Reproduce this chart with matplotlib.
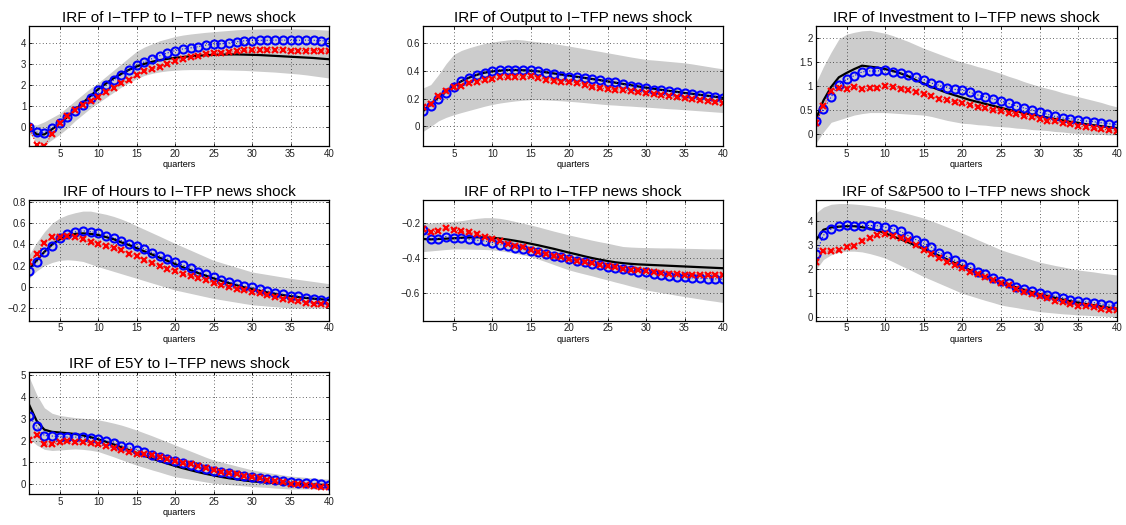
import numpy as np
import matplotlib
matplotlib.use("Agg")
import matplotlib.pyplot as plt

plt.rcParams['font.family'] = ['Liberation Sans', 'DejaVu Sans']

quarters = list(range(1, 41))

titles = ["IRF of I\u2212TFP to I\u2212TFP news shock",
          "IRF of Output to I\u2212TFP news shock",
          "IRF of Investment to I\u2212TFP news shock",
          "IRF of Hours to I\u2212TFP news shock",
          "IRF of RPI to I\u2212TFP news shock",
          "IRF of S&P500 to I\u2212TFP news shock",
          "IRF of E5Y to I\u2212TFP news shock"]

# ---- I-TFP ----
tfp_med = [0, -0.35, -0.35, -0.1, 0.17, 0.48, 0.82, 1.15, 1.48, 1.8, 2.07, 2.32, 2.53, 2.72, 2.88, 3.0, 3.1, 3.18, 3.24, 3.29,
           3.33, 3.36, 3.39, 3.41, 3.43, 3.44, 3.45, 3.45, 3.44, 3.43, 3.42, 3.4, 3.38, 3.36, 3.34, 3.32, 3.3, 3.28, 3.25, 3.22]
tfp_blue = [0, -0.24, -0.27, -0.06, 0.18, 0.46, 0.76, 1.07, 1.39, 1.74, 1.98, 2.23, 2.47, 2.72, 2.93, 3.1, 3.25, 3.39, 3.52, 3.63,
            3.71, 3.76, 3.82, 3.89, 3.94, 3.95, 4.0, 4.05, 4.1, 4.11, 4.12, 4.12, 4.13, 4.13, 4.12, 4.12, 4.13, 4.12, 4.11, 4.05]
tfp_red = [0, -0.86, -0.9, -0.33, 0.18, 0.51, 0.83, 1.07, 1.23, 1.42, 1.66, 1.86, 2.07, 2.25, 2.47, 2.65, 2.76, 2.87, 3.0, 3.12,
           3.23, 3.31, 3.39, 3.49, 3.51, 3.52, 3.55, 3.6, 3.65, 3.65, 3.67, 3.67, 3.67, 3.67, 3.63, 3.63, 3.63, 3.63, 3.63, 3.59]
tfp_up = [0.15, 0.1, 0.25, 0.45, 0.65, 0.95, 1.25, 1.55, 1.85, 2.1, 2.4, 2.7, 3.0, 3.3, 3.6, 3.8, 3.95, 4.1, 4.2, 4.3,
          4.37, 4.42, 4.46, 4.5, 4.53, 4.56, 4.59, 4.62, 4.64, 4.65, 4.66, 4.67, 4.67, 4.67, 4.67, 4.66, 4.65, 4.64, 4.62, 4.6]
tfp_lo = [-0.3, -0.7, -0.85, -0.6, -0.35, -0.05, 0.3, 0.6, 0.9, 1.15, 1.4, 1.65, 1.9, 2.1, 2.3, 2.45, 2.55, 2.62, 2.67, 2.7,
          2.72, 2.73, 2.73, 2.73, 2.72, 2.72, 2.71, 2.7, 2.69, 2.67, 2.65, 2.63, 2.61, 2.58, 2.55, 2.52, 2.48, 2.43, 2.38, 2.33]

# ---- Output ----
out_med = [0.11, 0.16, 0.21, 0.25, 0.29, 0.325, 0.35, 0.37, 0.385, 0.395, 0.4, 0.405, 0.405, 0.403, 0.4, 0.395, 0.388, 0.38, 0.372, 0.364,
           0.356, 0.348, 0.34, 0.332, 0.323, 0.314, 0.305, 0.296, 0.287, 0.278, 0.27, 0.262, 0.255, 0.248, 0.24, 0.234, 0.227, 0.22, 0.213, 0.205]
out_blue = [0.108, 0.144, 0.197, 0.24, 0.283, 0.326, 0.35, 0.37, 0.384, 0.398, 0.408, 0.408, 0.408, 0.405, 0.403, 0.396, 0.384, 0.374, 0.365, 0.358,
            0.353, 0.346, 0.338, 0.331, 0.322, 0.317, 0.302, 0.293, 0.283, 0.274, 0.264, 0.259, 0.252, 0.245, 0.238, 0.233, 0.226, 0.218, 0.214, 0.204]
out_red = [0.139, 0.163, 0.216, 0.257, 0.283, 0.293, 0.312, 0.317, 0.331, 0.341, 0.353, 0.353, 0.355, 0.355, 0.36, 0.346, 0.336, 0.329, 0.322, 0.322,
           0.312, 0.298, 0.283, 0.276, 0.269, 0.264, 0.259, 0.254, 0.245, 0.238, 0.233, 0.226, 0.216, 0.209, 0.202, 0.197, 0.19, 0.185, 0.178, 0.168]
out_up = [0.276, 0.3, 0.37, 0.45, 0.516, 0.545, 0.564, 0.58, 0.595, 0.605, 0.613, 0.62, 0.624, 0.62, 0.612, 0.606, 0.6, 0.593, 0.585, 0.576,
          0.566, 0.557, 0.547, 0.538, 0.528, 0.518, 0.508, 0.498, 0.489, 0.48, 0.476, 0.471, 0.466, 0.461, 0.456, 0.448, 0.439, 0.43, 0.421, 0.413]
out_lo = [-0.036, 0.0, 0.04, 0.065, 0.084, 0.1, 0.115, 0.13, 0.145, 0.158, 0.168, 0.176, 0.183, 0.188, 0.192, 0.192, 0.19, 0.187, 0.184, 0.18,
          0.176, 0.171, 0.166, 0.161, 0.156, 0.153, 0.149, 0.146, 0.142, 0.139, 0.135, 0.131, 0.127, 0.124, 0.12, 0.116, 0.112, 0.108, 0.104, 0.1]

# ---- Investment ----
inv_med = [0.3, 0.7, 0.98, 1.18, 1.27, 1.35, 1.42, 1.4, 1.38, 1.35, 1.31, 1.26, 1.2, 1.12, 1.05, 0.98, 0.92, 0.86, 0.81, 0.76,
           0.71, 0.67, 0.63, 0.59, 0.55, 0.51, 0.48, 0.44, 0.41, 0.38, 0.35, 0.32, 0.29, 0.26, 0.24, 0.21, 0.19, 0.17, 0.15, 0.13]
inv_blue = [0.283, 0.517, 0.772, 1.028, 1.138, 1.214, 1.29, 1.31, 1.31, 1.33, 1.29, 1.27, 1.228, 1.18, 1.13, 1.06, 1.014, 0.966, 0.93, 0.917,
            0.869, 0.814, 0.772, 0.73, 0.69, 0.64, 0.586, 0.545, 0.503, 0.462, 0.414, 0.372, 0.338, 0.324, 0.297, 0.276, 0.262, 0.241, 0.22, 0.2]
inv_red = [0.24, 0.586, 0.897, 0.966, 0.945, 0.972, 0.938, 0.952, 0.959, 1.0, 0.979, 0.945, 0.917, 0.883, 0.841, 0.786, 0.738, 0.703, 0.669, 0.641,
           0.607, 0.572, 0.538, 0.51, 0.483, 0.448, 0.42, 0.386, 0.352, 0.324, 0.283, 0.269, 0.241, 0.214, 0.172, 0.152, 0.131, 0.11, 0.09, 0.069]
inv_up = [1.055, 1.4, 1.7, 1.97, 2.07, 2.11, 2.14, 2.15, 2.12, 2.09, 2.04, 1.98, 1.92, 1.85, 1.78, 1.72, 1.66, 1.6, 1.54, 1.49,
          1.45, 1.4, 1.36, 1.31, 1.26, 1.2, 1.15, 1.09, 1.04, 0.99, 0.95, 0.91, 0.86, 0.82, 0.78, 0.74, 0.7, 0.66, 0.61, 0.57]
inv_lo = [-0.19, 0.05, 0.25, 0.3, 0.35, 0.4, 0.43, 0.45, 0.45, 0.45, 0.44, 0.43, 0.42, 0.41, 0.4, 0.37, 0.33, 0.29, 0.26, 0.23,
          0.22, 0.2, 0.19, 0.17, 0.16, 0.15, 0.13, 0.12, 0.1, 0.09, 0.08, 0.06, 0.05, 0.03, 0.02, 0.01, 0.0, 0.0, -0.01, -0.01]

# ---- Hours ----
hrs_med = [0.17, 0.25, 0.33, 0.4, 0.45, 0.48, 0.5, 0.505, 0.5, 0.49, 0.47, 0.45, 0.42, 0.395, 0.365, 0.335, 0.305, 0.275, 0.245, 0.215,
           0.185, 0.158, 0.13, 0.105, 0.08, 0.057, 0.035, 0.015, -0.005, -0.022, -0.038, -0.053, -0.066, -0.078, -0.088, -0.097, -0.105, -0.112, -0.118, -0.123]
hrs_blue = [0.149, 0.234, 0.329, 0.389, 0.459, 0.503, 0.519, 0.528, 0.522, 0.509, 0.484, 0.462, 0.437, 0.408, 0.383, 0.358, 0.323, 0.291, 0.263, 0.231,
            0.206, 0.174, 0.142, 0.117, 0.092, 0.066, 0.047, 0.025, 0.006, -0.006, -0.025, -0.041, -0.057, -0.07, -0.082, -0.089, -0.101, -0.111, -0.123, -0.136]
hrs_red = [0.231, 0.307, 0.411, 0.468, 0.475, 0.484, 0.472, 0.449, 0.421, 0.405, 0.389, 0.364, 0.345, 0.313, 0.288, 0.25, 0.225, 0.199, 0.171, 0.152,
           0.123, 0.104, 0.082, 0.06, 0.038, 0.016, -0.006, -0.016, -0.032, -0.051, -0.063, -0.079, -0.098, -0.111, -0.127, -0.133, -0.149, -0.158, -0.161, -0.171]
hrs_up = [0.3, 0.42, 0.52, 0.6, 0.65, 0.68, 0.7, 0.715, 0.715, 0.7, 0.685, 0.665, 0.64, 0.61, 0.576, 0.543, 0.51, 0.477, 0.443, 0.41,
          0.378, 0.346, 0.314, 0.282, 0.25, 0.228, 0.206, 0.184, 0.162, 0.14, 0.128, 0.116, 0.104, 0.092, 0.08, 0.07, 0.06, 0.05, 0.04, 0.03]
hrs_lo = [0.08, 0.15, 0.2, 0.23, 0.25, 0.255, 0.25, 0.24, 0.215, 0.19, 0.168, 0.146, 0.124, 0.102, 0.08, 0.058, 0.036, 0.014, -0.008, -0.03,
          -0.046, -0.062, -0.078, -0.094, -0.11, -0.122, -0.134, -0.146, -0.158, -0.17, -0.176, -0.182, -0.188, -0.194, -0.2, -0.2, -0.2, -0.2, -0.2, -0.2]

# ---- RPI ----
rpi_med = [-0.29, -0.292, -0.29, -0.288, -0.286, -0.283, -0.281, -0.28, -0.281, -0.283, -0.287, -0.293, -0.3, -0.308, -0.317, -0.326, -0.336, -0.346, -0.357, -0.368,
           -0.378, -0.389, -0.399, -0.408, -0.416, -0.423, -0.428, -0.432, -0.435, -0.437, -0.439, -0.441, -0.443, -0.445, -0.447, -0.449, -0.451, -0.453, -0.455, -0.457]
rpi_blue = [-0.238, -0.288, -0.288, -0.276, -0.286, -0.286, -0.291, -0.297, -0.301, -0.31, -0.322, -0.331, -0.339, -0.349, -0.358, -0.366, -0.375, -0.385, -0.394, -0.404,
            -0.413, -0.423, -0.432, -0.44, -0.448, -0.453, -0.461, -0.468, -0.476, -0.48, -0.488, -0.493, -0.499, -0.505, -0.51, -0.512, -0.514, -0.516, -0.518, -0.52]
rpi_red = [-0.234, -0.251, -0.242, -0.229, -0.238, -0.244, -0.251, -0.263, -0.276, -0.288, -0.299, -0.316, -0.328, -0.337, -0.35, -0.364, -0.373, -0.385, -0.394, -0.404,
           -0.413, -0.421, -0.43, -0.438, -0.444, -0.451, -0.459, -0.467, -0.47, -0.474, -0.478, -0.482, -0.488, -0.491, -0.493, -0.493, -0.493, -0.493, -0.495, -0.495]
rpi_up = [-0.2, -0.198, -0.195, -0.192, -0.19, -0.185, -0.178, -0.172, -0.168, -0.168, -0.172, -0.18, -0.19, -0.2, -0.21, -0.221, -0.233, -0.245, -0.256, -0.267,
          -0.277, -0.287, -0.297, -0.306, -0.314, -0.324, -0.333, -0.336, -0.338, -0.339, -0.34, -0.341, -0.341, -0.342, -0.343, -0.344, -0.345, -0.346, -0.346, -0.347]
rpi_lo = [-0.362, -0.358, -0.354, -0.35, -0.347, -0.347, -0.348, -0.349, -0.35, -0.352, -0.357, -0.364, -0.372, -0.381, -0.39, -0.405, -0.42, -0.436, -0.452, -0.467,
          -0.479, -0.49, -0.501, -0.513, -0.524, -0.536, -0.547, -0.559, -0.57, -0.581, -0.589, -0.597, -0.604, -0.612, -0.619, -0.626, -0.633, -0.64, -0.646, -0.653]

# ---- S&P500 ----
sp_med = [3.2, 3.65, 3.75, 3.78, 3.8, 3.8, 3.76, 3.7, 3.62, 3.5, 3.38, 3.25, 3.12, 2.98, 2.84, 2.7, 2.56, 2.41, 2.26, 2.11,
          1.96, 1.82, 1.69, 1.56, 1.44, 1.33, 1.23, 1.13, 1.04, 0.95, 0.87, 0.79, 0.72, 0.65, 0.59, 0.53, 0.48, 0.43, 0.38, 0.34]
sp_blue = [2.62, 3.42, 3.68, 3.79, 3.83, 3.82, 3.82, 3.83, 3.82, 3.76, 3.69, 3.58, 3.4, 3.23, 3.09, 2.92, 2.68, 2.53, 2.37, 2.22,
           2.08, 1.89, 1.78, 1.63, 1.5, 1.4, 1.26, 1.16, 1.07, 0.98, 0.91, 0.87, 0.79, 0.72, 0.66, 0.62, 0.59, 0.53, 0.49, 0.46]
sp_red = [2.29, 2.75, 2.75, 2.79, 2.92, 2.98, 3.17, 3.31, 3.42, 3.48, 3.38, 3.31, 3.2, 3.03, 2.82, 2.65, 2.46, 2.29, 2.18, 2.04,
          1.89, 1.78, 1.67, 1.54, 1.42, 1.31, 1.18, 1.05, 0.95, 0.87, 0.79, 0.67, 0.6, 0.53, 0.46, 0.44, 0.39, 0.32, 0.29, 0.27]
sp_up = [4.35, 4.6, 4.72, 4.75, 4.75, 4.73, 4.7, 4.66, 4.61, 4.56, 4.49, 4.41, 4.32, 4.23, 4.14, 4.02, 3.9, 3.77, 3.64, 3.51,
         3.37, 3.23, 3.09, 2.95, 2.81, 2.7, 2.6, 2.5, 2.39, 2.29, 2.22, 2.15, 2.09, 2.02, 1.96, 1.92, 1.88, 1.83, 1.79, 1.75]
sp_lo = [1.96, 2.4, 2.6, 2.7, 2.75, 2.75, 2.72, 2.65, 2.56, 2.46, 2.31, 2.15, 2.0, 1.84, 1.68, 1.54, 1.4, 1.26, 1.12, 0.98,
         0.88, 0.78, 0.68, 0.59, 0.49, 0.43, 0.38, 0.32, 0.27, 0.21, 0.18, 0.15, 0.12, 0.1, 0.07, 0.06, 0.04, 0.03, 0.01, 0.0]

# ---- E5Y ----
e5y_med = [3.65, 2.9, 2.5, 2.4, 2.37, 2.34, 2.3, 2.24, 2.16, 2.06, 1.95, 1.83, 1.7, 1.57, 1.44, 1.31, 1.18, 1.06, 0.95, 0.84,
           0.74, 0.65, 0.56, 0.48, 0.41, 0.34, 0.28, 0.23, 0.18, 0.14, 0.11, 0.08, 0.06, 0.04, 0.02, 0.01, 0.0, -0.01, -0.02, -0.03]
e5y_blue = [3.13, 2.65, 2.23, 2.21, 2.18, 2.16, 2.16, 2.15, 2.1, 2.06, 2.0, 1.89, 1.77, 1.69, 1.59, 1.46, 1.34, 1.25, 1.16, 1.05,
            0.98, 0.88, 0.79, 0.7, 0.61, 0.55, 0.5, 0.44, 0.38, 0.34, 0.29, 0.24, 0.2, 0.15, 0.12, 0.08, 0.06, 0.05, 0.0, -0.03]
e5y_red = [2.01, 2.26, 1.84, 1.84, 1.92, 1.97, 1.94, 1.95, 1.89, 1.83, 1.74, 1.66, 1.55, 1.48, 1.4, 1.39, 1.33, 1.25, 1.17, 1.08,
           0.99, 0.91, 0.82, 0.73, 0.66, 0.58, 0.52, 0.47, 0.4, 0.34, 0.27, 0.2, 0.15, 0.09, 0.03, 0.0, -0.05, -0.08, -0.11, -0.12]
e5y_up = [4.92, 4.1, 3.5, 3.25, 3.15, 3.1, 3.05, 3.02, 3.0, 2.95, 2.88, 2.8, 2.71, 2.6, 2.48, 2.35, 2.22, 2.08, 1.94, 1.8,
          1.66, 1.52, 1.38, 1.24, 1.11, 1.02, 0.93, 0.84, 0.75, 0.66, 0.6, 0.54, 0.49, 0.43, 0.38, 0.35, 0.32, 0.29, 0.26, 0.24]
e5y_lo = [2.1, 1.8, 1.6, 1.55, 1.57, 1.6, 1.62, 1.6, 1.56, 1.5, 1.38, 1.26, 1.13, 1.0, 0.88, 0.77, 0.66, 0.56, 0.45, 0.35,
          0.29, 0.23, 0.17, 0.11, 0.05, 0.02, -0.01, -0.04, -0.07, -0.1, -0.12, -0.14, -0.17, -0.19, -0.21, -0.21, -0.21, -0.21, -0.21, -0.21]

panels = [
    (tfp_med, tfp_blue, tfp_red, tfp_up, tfp_lo),
    (out_med, out_blue, out_red, out_up, out_lo),
    (inv_med, inv_blue, inv_red, inv_up, inv_lo),
    (hrs_med, hrs_blue, hrs_red, hrs_up, hrs_lo),
    (rpi_med, rpi_blue, rpi_red, rpi_up, rpi_lo),
    (sp_med, sp_blue, sp_red, sp_up, sp_lo),
    (e5y_med, e5y_blue, e5y_red, e5y_up, e5y_lo),
]

ylims = [(-0.9, 4.8), (-0.14, 0.72), (-0.24, 2.24), (-0.32, 0.82),
         (-0.757, -0.067), (-0.17, 4.9), (-0.44, 5.15)]
yticks = [[0, 1, 2, 3, 4], [0, 0.2, 0.4, 0.6], [0, 0.5, 1, 1.5, 2],
          [-0.2, 0, 0.2, 0.4, 0.6, 0.8], [-0.6, -0.4, -0.2], [0, 1, 2, 3, 4],
          [0, 1, 2, 3, 4, 5]]
xticks = [5, 10, 15, 20, 25, 30, 35, 40]

W, H = 1126, 525
fig = plt.figure(figsize=(W / 100, H / 100), dpi=100)
fig.patch.set_facecolor('white')

col_left = [29, 423, 815.7]
col_w = [300, 300, 301]
row_top = [26, 200, 371.7]
row_bot = [146, 320.7, 494]

def fmt(v):
    s = ('%g' % v)
    return s.replace('-', '\u2212')

for i, (med, blue, red, up, lo) in enumerate(panels):
    r, c = divmod(i, 3)
    ax = fig.add_axes([col_left[c] / W, 1 - row_bot[r] / H, col_w[c] / W, (row_bot[r] - row_top[r]) / H])
    ax.fill_between(quarters, lo, up, color='#cccccc', linewidth=0, zorder=0.2)
    ax.plot(quarters, med, color='black', linewidth=1.6, zorder=2)
    ax.plot(quarters, blue, color='blue', linestyle=':', linewidth=0.8, marker='o',
            markersize=5.8, markerfacecolor='none', markeredgewidth=1.5, zorder=3)
    ax.plot(quarters, red, color='red', linestyle=':', linewidth=0.8, marker='x',
            markersize=4.0, markeredgewidth=1.6, zorder=4)
    ax.set_xlim(1, 40)
    ax.set_ylim(*ylims[i])
    ax.set_xticks(xticks)
    ax.set_xticklabels([str(t) for t in xticks])
    ax.set_yticks(yticks[i])
    ax.set_yticklabels([fmt(v) for v in yticks[i]])
    ax.set_axisbelow(True)
    ax.grid(True, linestyle=(0, (1, 3)), color='black', linewidth=0.6, alpha=0.8)
    ax.tick_params(direction='in', length=2.5, width=0.6, labelsize=7, pad=2,
                   top=True, right=True, colors='black', labelcolor='#222222')
    for sp in ax.spines.values():
        sp.set_linewidth(0.9)
        sp.set_zorder(5)
    ax.set_title(titles[i], fontsize=11, pad=3)
    ax.set_xlabel('quarters', fontsize=6.5, labelpad=1)

fig.savefig('out.png', dpi=100)
